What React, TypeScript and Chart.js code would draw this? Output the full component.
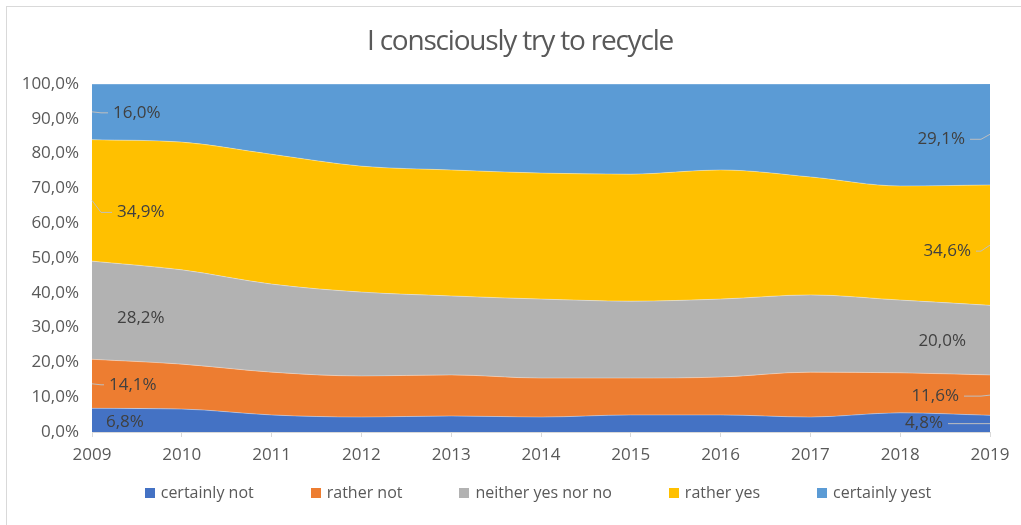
import React, { useEffect, useRef } from "react";
import { Chart, registerables } from "chart.js";

Chart.register(...registerables);

// ---------- data ----------
const titleText = "I consciously try to recycle";
const years = ["2009", "2010", "2011", "2012", "2013", "2014", "2015", "2016", "2017", "2018", "2019"];
const seriesLabels = ["certainly not", "rather not", "neither yes nor no", "rather yes", "certainly yest"];
const certainlyNot = [6.8, 6.6, 4.9, 4.3, 4.6, 4.3, 4.9, 4.9, 4.3, 5.5, 4.8];
const ratherNot = [14.1, 12.9, 12.3, 11.8, 11.8, 11.2, 10.6, 10.9, 12.9, 11.5, 11.6];
const neitherYesNorNo = [28.2, 27.1, 25.3, 24.1, 22.7, 22.7, 22.1, 22.4, 22.2, 20.9, 20.0];
const ratherYes = [34.9, 36.7, 37.3, 36.2, 36.2, 36.2, 36.5, 37.1, 33.9, 32.8, 34.6];
const certainlyYest = [16.0, 16.7, 20.2, 23.6, 24.7, 25.6, 25.9, 24.7, 26.7, 29.3, 29.1];
const yTickLabels = ["0,0%", "10,0%", "20,0%", "30,0%", "40,0%", "50,0%", "60,0%", "70,0%", "80,0%", "90,0%", "100,0%"];

// ---------- styles ----------
const seriesColors = ["#4472C4", "#ED7D31", "#B2B2B2", "#FFC000", "#5B9BD5"];
const FONT = "'Open Sans', 'Noto Sans', sans-serif";
const TEXT_GRAY = "#595959";
const LABEL_GRAY = "#404040";

const labelLayout = {
  first: [
    { dx: 14, dy: 2, leader: false },
    { dx: 17, dy: 1, leader: true },
    { dx: 25, dy: 8, leader: false },
    { dx: 25, dy: 12, leader: true },
    { dx: 21, dy: 1, leader: true },
  ],
  last: [
    { dx: 47, dy: 0, leader: true },
    { dx: 31, dy: 1, leader: true },
    { dx: 24, dy: 1, leader: false },
    { dx: 19, dy: 6, leader: true },
    { dx: 25, dy: 5, leader: true },
  ],
};

const fmtPct = (v: number) => v.toFixed(1).replace(".", ",") + "%";

const titlePlugin = {
  id: "customTitle",
  afterDraw(chart: any, _args: any, o: any) {
    const ctx = chart.ctx;
    ctx.save();
    ctx.font = `${o.size}px ${o.family}`;
    (ctx as any).letterSpacing = `${o.letterSpacing}px`;
    ctx.fillStyle = o.color;
    ctx.textAlign = "center";
    ctx.textBaseline = "middle";
    ctx.fillText(o.text, o.x, o.y);
    ctx.restore();
  },
};

const legendPlugin = {
  id: "customLegend",
  afterDraw(chart: any, _args: any, o: any) {
    const ctx = chart.ctx;
    ctx.save();
    ctx.font = `${o.size}px ${o.family}`;
    ctx.textBaseline = "middle";
    ctx.textAlign = "left";
    const items = chart.data.datasets.map((ds: any) => ({
      text: ds.label,
      color: ds.backgroundColor,
      w: ctx.measureText(ds.label).width,
    }));
    const total =
      items.reduce((s: number, it: any) => s + o.box + o.boxGap + it.w, 0) + o.spacing * (items.length - 1);
    let x = o.centerX - total / 2;
    items.forEach((it: any) => {
      ctx.fillStyle = it.color;
      ctx.fillRect(Math.round(x), Math.round(o.y - o.box / 2), o.box, o.box);
      ctx.fillStyle = o.color;
      ctx.fillText(it.text, x + o.box + o.boxGap, o.y);
      x += o.box + o.boxGap + it.w + o.spacing;
    });
    ctx.restore();
  },
};

const endLabelsPlugin = {
  id: "endLabels",
  afterDatasetsDraw(chart: any, _args: any, o: any) {
    const ctx = chart.ctx;
    const xs = chart.scales.x;
    const ys = chart.scales.y;
    const n = chart.data.labels.length;
    ctx.save();
    ctx.font = `${o.size}px ${o.family}`;
    ctx.textBaseline = "middle";
    const sides: Array<[string, number, number]> = [
      ["first", 0, 1],
      ["last", n - 1, -1],
    ];
    sides.forEach(([side, idx, dir]) => {
      let cum = 0;
      const ax = xs.getPixelForValue(idx);
      chart.data.datasets.forEach((ds: any, i: number) => {
        const v = ds.data[idx];
        const yMid = ys.getPixelForValue(cum + v / 2);
        cum += v;
        const spec = o.layout[side][i];
        const tx = ax + dir * spec.dx;
        const ty = yMid + spec.dy;
        if (spec.leader) {
          const ex = ax + dir * Math.min(o.elbow, spec.dx - o.gap);
          ctx.beginPath();
          ctx.strokeStyle = o.leaderColor;
          ctx.lineWidth = 1;
          ctx.moveTo(ax, yMid);
          ctx.lineTo(ex, ty);
          ctx.lineTo(tx - dir * o.gap, ty);
          ctx.stroke();
        }
        ctx.fillStyle = o.color;
        ctx.textAlign = dir === 1 ? "left" : "right";
        ctx.fillText(fmtPct(v), tx, ty);
      });
    });
    ctx.restore();
  },
};

export default function App() {
  const canvasRef = useRef<HTMLCanvasElement | null>(null);

  useEffect(() => {
    if (!canvasRef.current) return;
    const seriesData = [certainlyNot, ratherNot, neitherYesNorNo, ratherYes, certainlyYest];
    const chart = new Chart(canvasRef.current, {
      type: "line",
      data: {
        labels: years,
        datasets: seriesData.map((d, i) => ({
          label: seriesLabels[i],
          data: d,
          backgroundColor: seriesColors[i],
          borderColor: "rgba(255,255,255,0.35)",
          borderWidth: 1,
          fill: i === 0 ? "origin" : "-1",
          pointRadius: 0,
          pointHoverRadius: 0,
          cubicInterpolationMode: "monotone",
          stack: "s",
        })),
      },
      options: {
        animation: false,
        responsive: false,
        events: [],
        layout: { padding: { top: 84, right: 31, bottom: 52, left: 0 } },
        plugins: {
          legend: { display: false },
          title: { display: false },
          tooltip: { enabled: false },
          customTitle: {
            text: titleText,
            size: 28,
            family: FONT,
            letterSpacing: -1.2,
            color: TEXT_GRAY,
            x: 520,
            y: 42,
          },
          customLegend: {
            size: 16,
            family: FONT,
            color: TEXT_GRAY,
            box: 10,
            boxGap: 6,
            spacing: 57,
            centerX: 538,
            y: 493,
          },
          endLabels: {
            size: 17,
            family: FONT,
            color: LABEL_GRAY,
            leaderColor: "#BFBFBF",
            layout: labelLayout,
            elbow: 9,
            gap: 5,
          },
        } as any,
        scales: {
          x: {
            type: "category",
            offset: false,
            grid: {
              display: true,
              drawOnChartArea: false,
              drawTicks: true,
              tickLength: 5,
              color: "#D9D9D9",
            },
            border: { display: true, color: "#D9D9D9" },
            ticks: {
              color: TEXT_GRAY,
              font: { family: FONT, size: 17 },
              padding: 8,
              maxRotation: 0,
              autoSkip: false,
            },
            afterFit: (scale: any) => {
              scale.height = 41;
            },
          },
          y: {
            stacked: true,
            min: 0,
            max: 100,
            grid: { display: true, drawTicks: false, color: "#D9D9D9" },
            border: { display: false },
            ticks: {
              stepSize: 10,
              color: TEXT_GRAY,
              font: { family: FONT, size: 17 },
              padding: 13,
              callback: (_v: any, index: number) => yTickLabels[index],
            },
            afterFit: (scale: any) => {
              scale.width = 92;
            },
          },
        },
      },
      plugins: [endLabelsPlugin, titlePlugin, legendPlugin],
    } as any);
    return () => chart.destroy();
  }, []);

  return (
    <div
      style={{
        position: "absolute",
        left: 0,
        top: 0,
        width: 1021,
        height: 525,
        overflow: "hidden",
        background: "#FFFFFF",
      }}
    >
      <div
        style={{
          position: "absolute",
          left: 6,
          top: 6,
          width: 1100,
          height: 600,
          border: "1px solid #D9D9D9",
        }}
      />
      <canvas
        ref={canvasRef}
        width={1021}
        height={525}
        style={{ position: "absolute", left: 0, top: 0, width: 1021, height: 525 }}
      />
    </div>
  );
}
